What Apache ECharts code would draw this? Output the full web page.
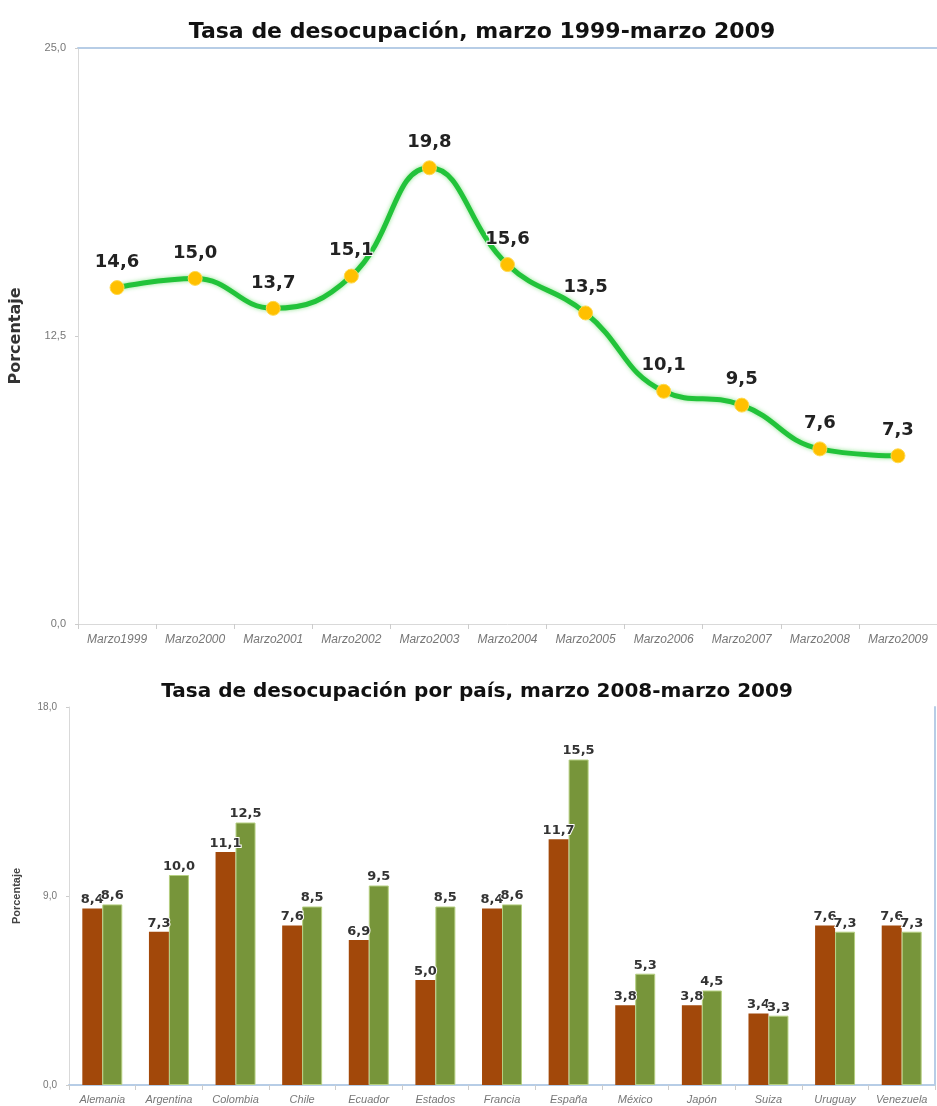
<!DOCTYPE html>
<html>
<head>
<meta charset="utf-8">
<script src="https://cdn.jsdelivr.net/npm/echarts@6/dist/echarts.min.js"></script>
<style>html,body{margin:0;padding:0;background:#fff}#c{width:937px;height:1106px}</style>
</head>
<body>
<div id="c"></div>
<script>
var lineTitle = 'Tasa de desocupación, marzo 1999-marzo 2009';
var barTitle = 'Tasa de desocupación por país, marzo 2008-marzo 2009';
var yName = 'Porcentaje';
var years = ['Marzo1999','Marzo2000','Marzo2001','Marzo2002','Marzo2003','Marzo2004','Marzo2005','Marzo2006','Marzo2007','Marzo2008','Marzo2009'];
var rate = [14.6, 15.0, 13.7, 15.1, 19.8, 15.6, 13.5, 10.1, 9.5, 7.6, 7.3];
var countries = ['Alemania','Argentina','Colombia','Chile','Ecuador','Estados','Francia','España','México','Japón','Suiza','Uruguay','Venezuela'];
var mar2008 = [8.4, 7.3, 11.1, 7.6, 6.9, 5.0, 8.4, 11.7, 3.8, 3.8, 3.4, 7.6, 7.6];
var mar2009 = [8.6, 10.0, 12.5, 8.5, 9.5, 8.5, 8.6, 15.5, 5.3, 4.5, 3.3, 7.3, 7.3];

var fmt = function (v) { return Number(v).toFixed(1).replace('.', ','); };
var font = 'Liberation Sans, Arial, sans-serif';
var wide = 'DejaVu Sans, Verdana, sans-serif';
var chart = echarts.init(document.getElementById('c'));
var blue = '#b7cde6';
var axisGray = '#d9d9d9';

var barLabel = {
  show: true, position: 'top', distance: 2,
  fontFamily: wide, fontWeight: 'bold', fontSize: 13, color: '#333',
  textBorderColor: '#fff', textBorderWidth: 2,
  formatter: function (p) { return fmt(p.value); }
};

chart.setOption({
  animation: false,
  title: [
    { text: lineTitle, left: 477, top: 16, textAlign: 'center',
      textStyle: { fontFamily: wide, fontWeight: 'bold', fontSize: 22, color: '#111' } },
    { text: barTitle, left: 472, top: 677, textAlign: 'center',
      textStyle: { fontFamily: wide, fontWeight: 'bold', fontSize: 20, color: '#111' } }
  ],
  grid: [
    { left: 76, top: 48, width: 861, height: 576 },
    { left: 69, top: 707, width: 866, height: 378 }
  ],
  xAxis: [
    { type: 'category', gridIndex: 0, data: years, boundaryGap: true,
      axisLine: { lineStyle: { color: axisGray } }, axisTick: { show: true, lineStyle: { color: '#ccc' } },
      axisLabel: { interval: 0, fontFamily: font, fontStyle: 'italic', fontSize: 12, color: '#777', margin: 10 } },
    { type: 'category', gridIndex: 0, position: 'top', data: years,
      axisLine: { lineStyle: { color: blue, width: 2 } }, axisTick: { show: false }, axisLabel: { show: false } },
    { type: 'category', gridIndex: 1, data: countries,
      axisLine: { lineStyle: { color: axisGray } }, axisTick: { show: true, lineStyle: { color: '#ccc' } },
      axisLabel: { interval: 0, fontFamily: font, fontStyle: 'italic', fontSize: 11, color: '#777', margin: 9 } },
    { type: 'category', gridIndex: 1, position: 'top', data: countries,
      axisLine: { lineStyle: { color: blue, width: 2 } }, axisTick: { show: false }, axisLabel: { show: false } }
  ],
  yAxis: [
    { type: 'value', gridIndex: 0, min: 0, max: 25, interval: 12.5,
      name: yName, nameLocation: 'middle', nameGap: 54, nameRotate: 90,
      nameTextStyle: { fontFamily: wide, fontWeight: 'bold', fontSize: 16, color: '#333' },
      axisLine: { show: true, lineStyle: { color: axisGray } }, axisTick: { show: true, length: 3, lineStyle: { color: '#ccc' } },
      splitLine: { show: false },
      axisLabel: { fontFamily: font, fontSize: 11, color: '#777', margin: 12, formatter: fmt } },
    { type: 'value', gridIndex: 1, min: 0, max: 18, interval: 9,
      name: yName, nameLocation: 'middle', nameGap: 47, nameRotate: 90,
      nameTextStyle: { fontFamily: font, fontWeight: 'bold', fontSize: 11, color: '#444' },
      axisLine: { show: true, lineStyle: { color: axisGray } }, axisTick: { show: true, length: 3, lineStyle: { color: '#ccc' } },
      splitLine: { show: false },
      axisLabel: { fontFamily: font, fontSize: 10, color: '#777', margin: 12, formatter: fmt } },
    { type: 'value', gridIndex: 1, position: 'right', min: 0, max: 18, interval: 9,
      axisLine: { show: true, lineStyle: { color: blue, width: 2 } }, axisTick: { show: false },
      axisLabel: { show: false }, splitLine: { show: false } }
  ],
  series: [
    { type: 'line', xAxisIndex: 0, yAxisIndex: 0, data: rate, smooth: 0.45,
      lineStyle: { color: '#22c33a', width: 5, shadowColor: 'rgba(130,225,130,0.9)', shadowBlur: 4 },
      symbol: 'circle', symbolSize: 14,
      itemStyle: { color: '#ffc000', borderColor: '#ffd84d', borderWidth: 1 },
      label: { show: true, position: 'top', distance: 9, fontFamily: wide, fontWeight: 'bold', fontSize: 18, color: '#222',
        textBorderColor: '#fff', textBorderWidth: 2, formatter: function (p) { return fmt(p.value); } } },
    { type: 'bar', xAxisIndex: 2, yAxisIndex: 1, data: mar2008, barGap: '0%', barCategoryGap: '40%',
      itemStyle: { color: '#a2480a' }, label: barLabel },
    { type: 'bar', xAxisIndex: 2, yAxisIndex: 1, data: mar2009,
      itemStyle: { color: '#77953a', borderColor: '#b5cf80', borderWidth: 1 }, label: barLabel }
  ]
});
</script>
</body>
</html>
